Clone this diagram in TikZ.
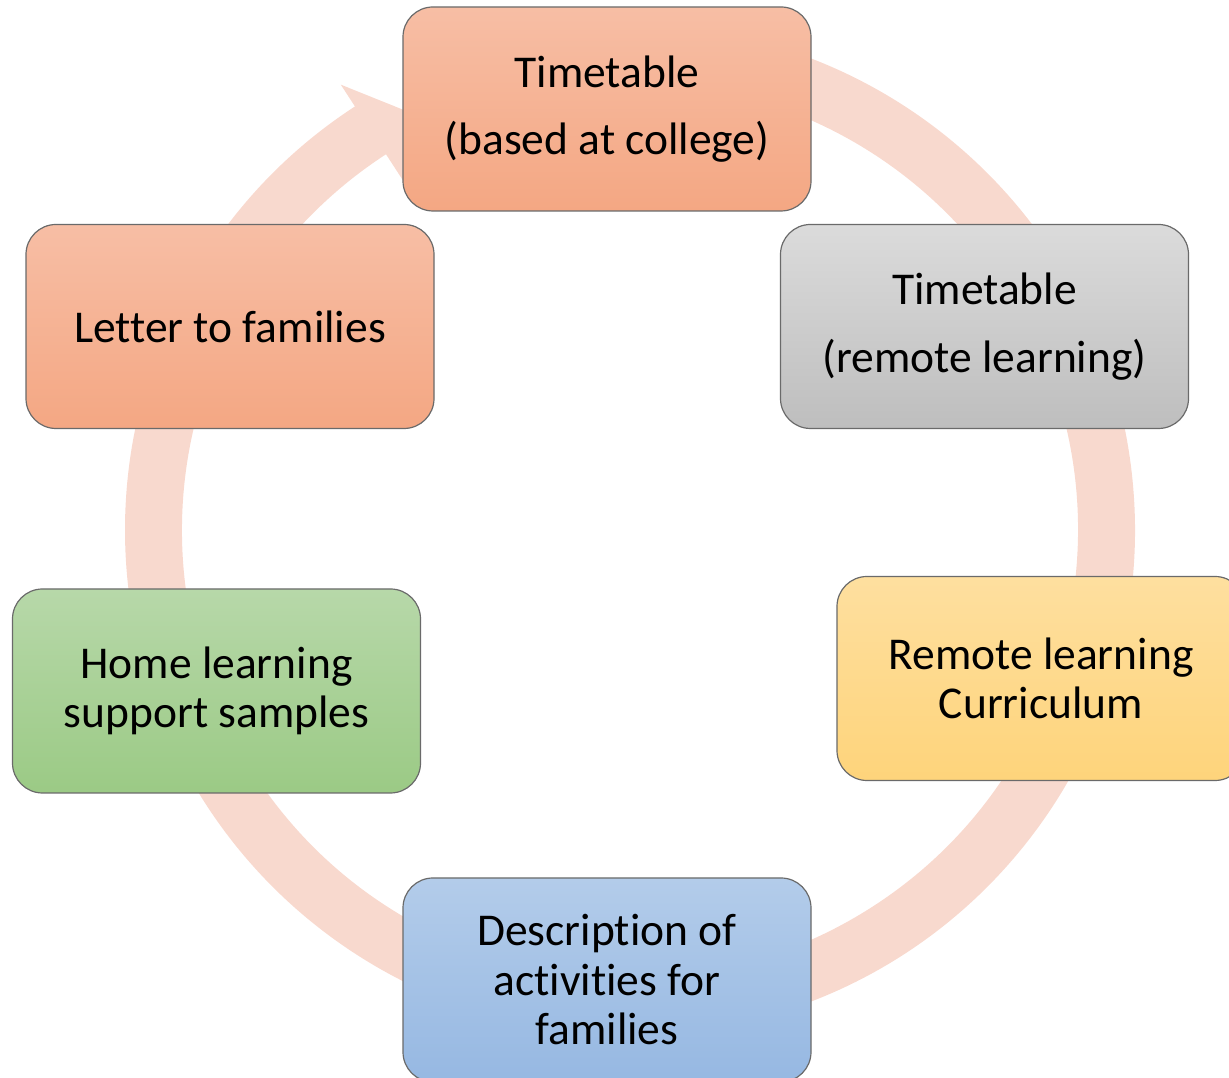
\documentclass[tikz,border=0pt]{standalone}
\usepackage{fontspec}
\setmainfont{Carlito}[RawFeature={-liga}]
\definecolor{ringc}{HTML}{F8D9CE}
\definecolor{edgec}{HTML}{6A6A6A}
\definecolor{salT}{HTML}{F7BEA5}
\definecolor{salB}{HTML}{F4A783}
\definecolor{gryT}{HTML}{DBDBDB}
\definecolor{gryB}{HTML}{BEBEBE}
\definecolor{yelT}{HTML}{FEDF9F}
\definecolor{yelB}{HTML}{FED47B}
\definecolor{bluT}{HTML}{B3CCEA}
\definecolor{bluB}{HTML}{96B8E2}
\definecolor{grnT}{HTML}{B7D8A9}
\definecolor{grnB}{HTML}{9BCA85}
\newcommand\bfnt{\fontsize{45.5}{49.5}\selectfont}
\begin{document}
\begin{tikzpicture}[x=1pt,y=1pt,
  cyclebox/.style={rounded corners=30pt, draw=edgec, line width=1.2pt,
    minimum width=408pt, minimum height=204pt, align=center,
    font=\bfnt, inner sep=0pt, text=black},
  salfill/.style={top color=salT, bottom color=salB},
  gryfill/.style={top color=gryT, bottom color=gryB},
  yelfill/.style={top color=yelT, bottom color=yelB},
  blufill/.style={top color=bluT, bottom color=bluB},
  grnfill/.style={top color=grnT, bottom color=grnB}]
\useasboundingbox (0,0) rectangle (1229,1078);
\clip (0,0) rectangle (1229,1078);
% circular arrow
\begin{scope}[shift={(630,548)}]
\fill[ringc] (95:505) arc[start angle=95, end angle=-237, radius=505]
  -- (123:531) -- (118:474) -- (123:416) -- (123:448)
  arc[start angle=123, end angle=455, radius=448] -- cycle;
\end{scope}
% boxes
\node[cyclebox, salfill] (top) at (607,969) {Timetable\\[18pt](based at college)};
\node[cyclebox, gryfill] (remote) at (984.5,751.5) {Timetable\\[18pt](remote learning)};
\node[cyclebox, yelfill] (curr) at (1041,399.5) {Remote learning\\Curriculum};
\node[cyclebox, blufill] (desc) at (607,98) {Description of\\activities for\\families};
\node[cyclebox, grnfill] (home) at (216.5,387) {Home learning\\support samples};
\node[cyclebox, salfill] (letter) at (230,751.5) {Letter to families};
\end{tikzpicture}
\end{document}
